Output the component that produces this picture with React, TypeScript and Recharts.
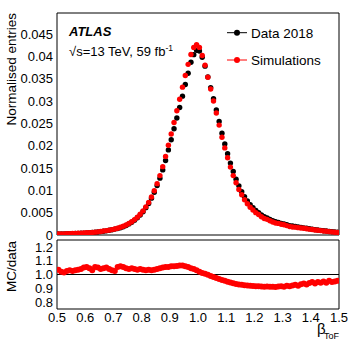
import React from 'react';
import { ComposedChart, Line, XAxis, YAxis, ReferenceLine } from 'recharts';

// bin centres of beta_ToF
const betaBins = [
  0.505, 0.515, 0.525, 0.535, 0.545, 0.555, 0.565, 0.575, 0.585, 0.595,
  0.605, 0.615, 0.625, 0.635, 0.645, 0.655, 0.665, 0.675, 0.685, 0.695,
  0.705, 0.715, 0.725, 0.735, 0.745, 0.755, 0.765, 0.775, 0.785, 0.795,
  0.805, 0.815, 0.825, 0.835, 0.845, 0.855, 0.865, 0.875, 0.885, 0.895,
  0.905, 0.915, 0.925, 0.935, 0.945, 0.955, 0.965, 0.975, 0.985, 0.995,
  1.005, 1.015, 1.025, 1.035, 1.045, 1.055, 1.065, 1.075, 1.085, 1.095,
  1.105, 1.115, 1.125, 1.135, 1.145, 1.155, 1.165, 1.175, 1.185, 1.195,
  1.205, 1.215, 1.225, 1.235, 1.245, 1.255, 1.265, 1.275, 1.285, 1.295,
  1.305, 1.315, 1.325, 1.335, 1.345, 1.355, 1.365, 1.375, 1.385, 1.395,
  1.405, 1.415, 1.425, 1.435, 1.445, 1.455, 1.465, 1.475, 1.485, 1.495,
];

// Data 2018
const dataValues = [
  0.00021, 0.000235, 0.000256, 0.000273, 0.000291, 0.000312, 0.00034, 0.000367, 0.000394, 0.000429,
  0.000464, 0.000507, 0.000563, 0.000607, 0.000676, 0.00076, 0.000842, 0.000933, 0.00105, 0.00117,
  0.00132, 0.00144, 0.00162, 0.00186, 0.00214, 0.00248, 0.00285, 0.00332, 0.00386, 0.00447,
  0.00522, 0.00612, 0.00705, 0.00825, 0.00957, 0.01106, 0.01273, 0.01457, 0.01668, 0.01905,
  0.02132, 0.02377, 0.02618, 0.02854, 0.03108, 0.03368, 0.03621, 0.03866, 0.04038, 0.04136,
  0.0412, 0.0398, 0.0378, 0.0354, 0.033, 0.0305, 0.028, 0.0254, 0.0228, 0.0204,
  0.0182, 0.0161, 0.0142, 0.0125, 0.011, 0.0097, 0.0086, 0.0076, 0.0068, 0.0061,
  0.0055, 0.005, 0.0045, 0.0041, 0.0038, 0.0035, 0.0032, 0.003, 0.0028, 0.0026,
  0.0025, 0.0023, 0.0021, 0.002, 0.0019, 0.0018, 0.0017, 0.0016, 0.0015, 0.0014,
  0.0013, 0.0012, 0.00112, 0.00104, 0.00096, 0.00088, 0.0008, 0.00073, 0.00066, 0.0006,
];

// Simulations
const simValues = [
  0.00022, 0.00024, 0.00026, 0.00028, 0.0003, 0.00032, 0.00035, 0.00038, 0.00041, 0.00045,
  0.00049, 0.00053, 0.00058, 0.00064, 0.00071, 0.00079, 0.00088, 0.00098, 0.00109, 0.00121,
  0.00135, 0.00152, 0.00172, 0.00196, 0.00224, 0.00258, 0.00298, 0.00345, 0.004, 0.00465,
  0.0054, 0.0063, 0.0073, 0.0085, 0.0099, 0.0115, 0.0133, 0.0153, 0.0176, 0.0201,
  0.0226, 0.0252, 0.0278, 0.0304, 0.0331, 0.0357, 0.0382, 0.0404, 0.042, 0.0426,
  0.042, 0.0402, 0.038, 0.0353, 0.0327, 0.03, 0.0273, 0.0246, 0.0219, 0.0195,
  0.0173, 0.0152, 0.0133, 0.0117, 0.0102, 0.009, 0.0079, 0.007, 0.0062, 0.0056,
  0.005, 0.0046, 0.0041, 0.0037, 0.0035, 0.0032, 0.0029, 0.0027, 0.0026, 0.0024,
  0.0023, 0.0021, 0.0019, 0.0018, 0.00176, 0.00165, 0.00158, 0.0015, 0.00139, 0.00131,
  0.00123, 0.00112, 0.00106, 0.00098, 0.00091, 0.00083, 0.00076, 0.00069, 0.00063, 0.00057,
];

// MC/data
const ratioValues = [
  1.035, 1.02, 1.015, 1.025, 1.03, 1.025, 1.03, 1.035, 1.04, 1.05,
  1.055, 1.045, 1.03, 1.055, 1.05, 1.04, 1.045, 1.05, 1.04, 1.03,
  1.025, 1.055, 1.06, 1.055, 1.045, 1.04, 1.045, 1.04, 1.035, 1.04,
  1.035, 1.03, 1.035, 1.03, 1.035, 1.04, 1.045, 1.05, 1.055, 1.055,
  1.06, 1.06, 1.062, 1.065, 1.065, 1.06, 1.055, 1.045, 1.04, 1.03,
  1.02, 1.01, 1.005, 0.998, 0.99, 0.982, 0.975, 0.968, 0.96, 0.955,
  0.948, 0.942, 0.937, 0.932, 0.928, 0.925, 0.922, 0.92, 0.918, 0.916,
  0.915, 0.914, 0.913, 0.912, 0.913, 0.911, 0.912, 0.91, 0.913, 0.915,
  0.912, 0.918, 0.915, 0.92, 0.925, 0.918, 0.93, 0.935, 0.928, 0.938,
  0.945, 0.935, 0.945, 0.94, 0.95, 0.94, 0.955, 0.945, 0.95, 0.955,
];

const xTicks = [0.5, 0.6, 0.7, 0.8, 0.9, 1.0, 1.1, 1.2, 1.3, 1.4, 1.5];
const xTickLabels = ['0.5', '0.6', '0.7', '0.8', '0.9', '1.0', '1.1', '1.2', '1.3', '1.4', '1.5'];
const yTopTicks = [0, 0.005, 0.01, 0.015, 0.02, 0.025, 0.03, 0.035, 0.04, 0.045];
const yTopLabels = ['0', '0.005', '0.01', '0.015', '0.02', '0.025', '0.03', '0.035', '0.04', '0.045'];
const yRatioTicks = [0.8, 0.9, 1.0, 1.1, 1.2];
const yRatioLabels = ['0.8', '0.9', '1.0', '1.1', '1.2'];

const X_DOMAIN = [0.5, 1.5];
const Y_TOP_DOMAIN = [0, 0.0497];
const Y_RATIO_DOMAIN = [0.75, 1.25];

const FONT = '"Liberation Sans", Arial, Helvetica, sans-serif';
const W = 357;
const THIN = 0.01; // mirrored tick-only axes must have a non-zero size to render

function minorTicks(from: number, to: number, step: number) {
  const out: number[] = [];
  for (let v = from; v <= to + step / 2; v += step) out.push(+v.toFixed(5));
  return out;
}

const xMinor = minorTicks(0.5, 1.5, 0.02);
const yTopMinor = minorTicks(0, 0.049, 0.001);
const yRatioMinor = minorTicks(0.76, 1.24, 0.02);

const tickFont = { fill: '#000', fontSize: 13, fontFamily: FONT };

// ROOT-style frame: inward ticks on all four sides, drawn by mirrored axes
function frameAxes(
  yDomain: number[],
  yMajor: number[],
  yMinor: number[],
  xLen: [number, number],
  yLen: [number, number],
) {
  const common = {
    type: 'number' as const,
    allowDataOverflow: true,
    interval: 0 as const,
    tick: false,
    mirror: true,
    tickLine: { stroke: '#000' },
  };
  const line = { stroke: '#000', strokeWidth: 1 };
  return [
    <XAxis key="xb" xAxisId="xb" orientation="bottom" height={THIN} domain={X_DOMAIN} ticks={xTicks} tickSize={xLen[0]} axisLine={line} {...common} />,
    <XAxis key="xbm" xAxisId="xbm" orientation="bottom" height={THIN} domain={X_DOMAIN} ticks={xMinor} tickSize={xLen[1]} axisLine={false} {...common} />,
    <XAxis key="xt" xAxisId="xt" orientation="top" height={THIN} domain={X_DOMAIN} ticks={xTicks} tickSize={xLen[0]} axisLine={line} {...common} />,
    <XAxis key="xtm" xAxisId="xtm" orientation="top" height={THIN} domain={X_DOMAIN} ticks={xMinor} tickSize={xLen[1]} axisLine={false} {...common} />,
    <YAxis key="yl" yAxisId="yl" orientation="left" width={THIN} domain={yDomain} ticks={yMajor} tickSize={yLen[0]} axisLine={line} {...common} />,
    <YAxis key="ylm" yAxisId="ylm" orientation="left" width={THIN} domain={yDomain} ticks={yMinor} tickSize={yLen[1]} axisLine={false} {...common} />,
    <YAxis key="yr" yAxisId="yr" orientation="right" width={THIN} domain={yDomain} ticks={yMajor} tickSize={yLen[0]} axisLine={line} {...common} />,
    <YAxis key="yrm" yAxisId="yrm" orientation="right" width={THIN} domain={yDomain} ticks={yMinor} tickSize={yLen[1]} axisLine={false} {...common} />,
  ];
}

const topRows = betaBins.map((b, i) => ({ x: b, data: dataValues[i], sim: simValues[i] }));
const ratioRows = betaBins.map((b, i) => ({ x: b, ratio: ratioValues[i] }));

export default function App() {
  return (
    <div style={{ position: 'absolute', left: 0, top: 0, width: W, height: 343, background: '#fff' }}>
      <div style={{ position: 'absolute', left: 0, top: 0 }}>
        <ComposedChart width={W} height={246} data={topRows} margin={{ top: 13, right: 18, bottom: 11, left: 0 }}>
          <XAxis xAxisId="x" dataKey="x" type="number" domain={X_DOMAIN} allowDataOverflow hide />
          <YAxis
            yAxisId="y"
            type="number"
            width={57}
            domain={Y_TOP_DOMAIN}
            allowDataOverflow
            ticks={yTopTicks}
            interval={0}
            tickLine={false}
            axisLine={false}
            tickSize={0}
            tickMargin={4}
            tick={tickFont}
            tickFormatter={(v: number) => yTopLabels[yTopTicks.indexOf(v)] ?? String(v)}
          />
          {frameAxes(Y_TOP_DOMAIN, yTopTicks, yTopMinor, [5, 2.5], [7.5, 4])}
          <Line
            xAxisId="x"
            yAxisId="y"
            dataKey="data"
            stroke="none"
            dot={{ r: 2.7, fill: '#000', stroke: 'none' }}
            activeDot={false}
            isAnimationActive={false}
          />
          <Line
            xAxisId="x"
            yAxisId="y"
            dataKey="sim"
            stroke="none"
            dot={{ r: 2.7, fill: '#ff0000', stroke: 'none' }}
            activeDot={false}
            isAnimationActive={false}
          />
        </ComposedChart>
      </div>

      <div style={{ position: 'absolute', left: 0, top: 236 }}>
        <ComposedChart width={W} height={107} data={ratioRows} margin={{ top: 4, right: 18, bottom: 4, left: 0 }}>
          <XAxis
            xAxisId="x"
            dataKey="x"
            type="number"
            height={30}
            domain={X_DOMAIN}
            allowDataOverflow
            ticks={xTicks}
            interval={0}
            tickLine={false}
            axisLine={false}
            tickSize={0}
            tickMargin={4}
            tick={tickFont}
            tickFormatter={(v: number) => xTickLabels[xTicks.indexOf(v)] ?? String(v)}
          />
          <YAxis
            yAxisId="y"
            type="number"
            width={57}
            domain={Y_RATIO_DOMAIN}
            allowDataOverflow
            ticks={yRatioTicks}
            interval={0}
            tickLine={false}
            axisLine={false}
            tickSize={0}
            tickMargin={4}
            tick={tickFont}
            tickFormatter={(v: number) => yRatioLabels[yRatioTicks.indexOf(v)] ?? String(v)}
          />
          {frameAxes(Y_RATIO_DOMAIN, yRatioTicks, yRatioMinor, [6, 3], [6, 3])}
          <Line
            xAxisId="x"
            yAxisId="y"
            dataKey="ratio"
            stroke="none"
            dot={{ r: 3, fill: '#ff0000', stroke: 'none' }}
            activeDot={false}
            isAnimationActive={false}
          />
          <ReferenceLine xAxisId="x" yAxisId="y" y={1} stroke="#000" strokeWidth={1} />
        </ComposedChart>
      </div>

      <svg
        width={W}
        height={343}
        style={{ position: 'absolute', left: 0, top: 0, pointerEvents: 'none' }}
        fontFamily={FONT}
      >
        <text x={69} y={36} fontSize={13} fontWeight="bold" fontStyle="italic">ATLAS</text>
        <text x={69} y={56} fontSize={13}>
          √s=13 TeV, 59 fb<tspan fontSize={8.5} dy={-5}>-1</tspan>
        </text>

        <line x1={227} x2={247} y1={32.7} y2={32.7} stroke="#000" />
        <circle cx={237} cy={32.7} r={3} fill="#000" />
        <text x={251} y={37.5} fontSize={13.5}>Data 2018</text>
        <line x1={227} x2={247} y1={60} y2={60} stroke="#ff0000" />
        <circle cx={237} cy={60} r={3} fill="#ff0000" />
        <text x={251} y={65} fontSize={13.5}>Simulations</text>

        <text x={16} y={13} fontSize={13.5} textAnchor="end" transform="rotate(-90 16 13)">
          Normalised entries
        </text>
        <text x={16} y={241} fontSize={13.5} textAnchor="end" transform="rotate(-90 16 241)">
          MC/data
        </text>

        <text x={317} y={334} fontSize={15}>β</text>
        <text x={339} y={338.5} fontSize={9} textAnchor="end">ToF</text>
      </svg>
    </div>
  );
}
